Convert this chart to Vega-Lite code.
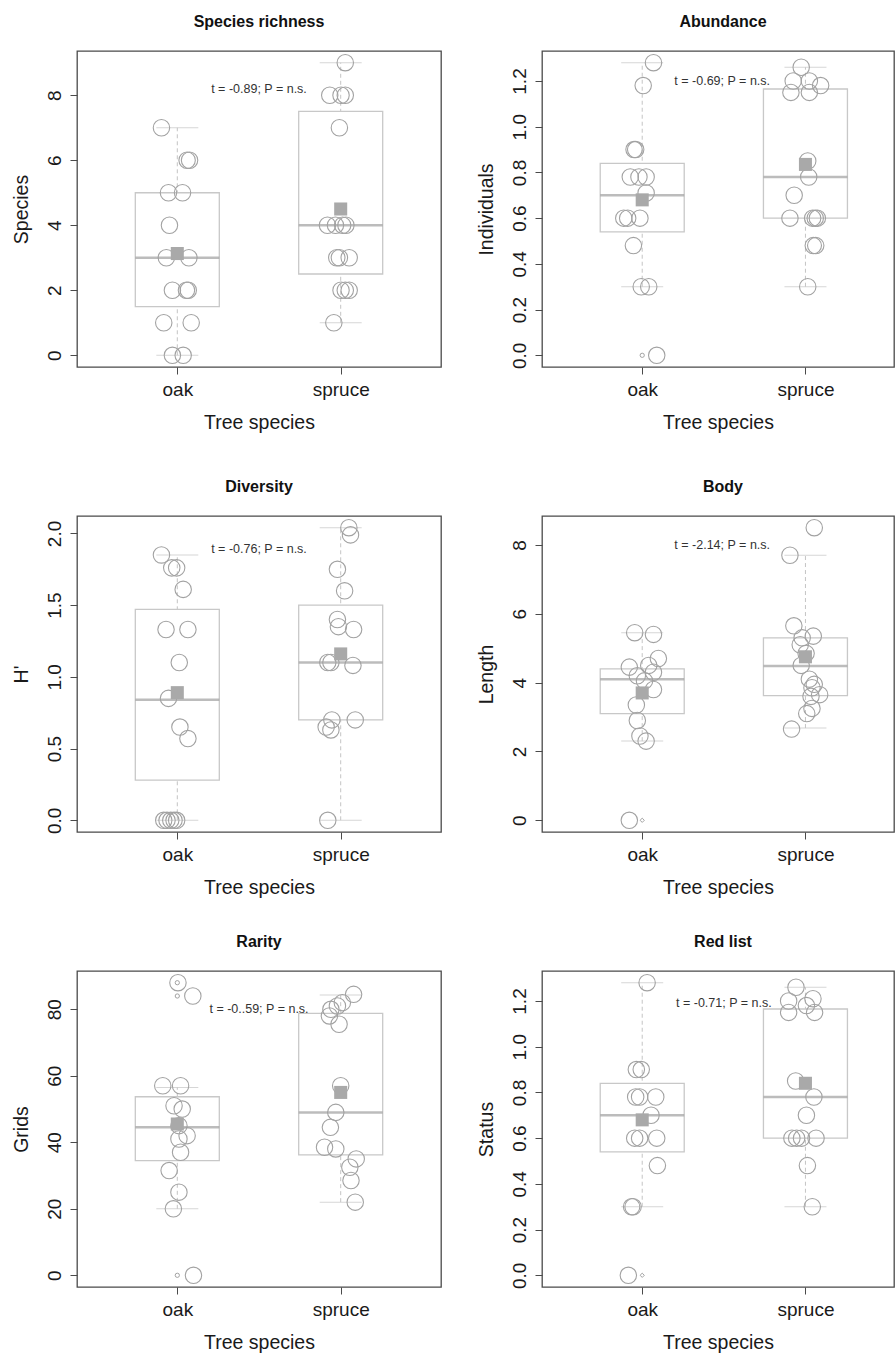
{
  "$schema": "https://vega.github.io/schema/vega-lite/v6.json",
  "padding": {"left": 10, "top": 13, "right": 0, "bottom": 0},
  "background": "white",
  "datasets": {
    "pts": [
      {"panel":"SR","tree":"oak","x":0.903,"value":7},{"panel":"SR","tree":"oak","x":1.060,"value":6},{"panel":"SR","tree":"oak","x":1.075,"value":6},{"panel":"SR","tree":"oak","x":0.946,"value":5},{"panel":"SR","tree":"oak","x":1.032,"value":5},{"panel":"SR","tree":"oak","x":0.952,"value":4},{"panel":"SR","tree":"oak","x":0.933,"value":3},{"panel":"SR","tree":"oak","x":1.071,"value":3},{"panel":"SR","tree":"oak","x":0.970,"value":2},{"panel":"SR","tree":"oak","x":1.056,"value":2},{"panel":"SR","tree":"oak","x":1.067,"value":2},{"panel":"SR","tree":"oak","x":0.917,"value":1},{"panel":"SR","tree":"oak","x":1.085,"value":1},{"panel":"SR","tree":"oak","x":0.970,"value":0},{"panel":"SR","tree":"oak","x":1.036,"value":0},
      {"panel":"SR","tree":"spruce","x":2.028,"value":9},{"panel":"SR","tree":"spruce","x":1.933,"value":8},{"panel":"SR","tree":"spruce","x":2.002,"value":8},{"panel":"SR","tree":"spruce","x":2.028,"value":8},{"panel":"SR","tree":"spruce","x":1.992,"value":7},{"panel":"SR","tree":"spruce","x":1.919,"value":4},{"panel":"SR","tree":"spruce","x":1.968,"value":4},{"panel":"SR","tree":"spruce","x":2.012,"value":4},{"panel":"SR","tree":"spruce","x":2.032,"value":4},{"panel":"SR","tree":"spruce","x":1.976,"value":3},{"panel":"SR","tree":"spruce","x":1.992,"value":3},{"panel":"SR","tree":"spruce","x":2.052,"value":3},{"panel":"SR","tree":"spruce","x":2.002,"value":2},{"panel":"SR","tree":"spruce","x":2.028,"value":2},{"panel":"SR","tree":"spruce","x":2.052,"value":2},{"panel":"SR","tree":"spruce","x":1.958,"value":1},
      {"panel":"AB","tree":"oak","x":1.069,"value":1.28},{"panel":"AB","tree":"oak","x":1.006,"value":1.18},{"panel":"AB","tree":"oak","x":0.950,"value":0.90},{"panel":"AB","tree":"oak","x":0.960,"value":0.90},{"panel":"AB","tree":"oak","x":0.927,"value":0.78},{"panel":"AB","tree":"oak","x":0.980,"value":0.78},{"panel":"AB","tree":"oak","x":1.024,"value":0.78},{"panel":"AB","tree":"oak","x":1.024,"value":0.71},{"panel":"AB","tree":"oak","x":0.887,"value":0.60},{"panel":"AB","tree":"oak","x":0.911,"value":0.60},{"panel":"AB","tree":"oak","x":0.986,"value":0.60},{"panel":"AB","tree":"oak","x":0.946,"value":0.48},{"panel":"AB","tree":"oak","x":0.994,"value":0.30},{"panel":"AB","tree":"oak","x":1.040,"value":0.30},{"panel":"AB","tree":"oak","x":1.089,"value":0},
      {"panel":"AB","tree":"spruce","x":1.974,"value":1.26},{"panel":"AB","tree":"spruce","x":1.925,"value":1.20},{"panel":"AB","tree":"spruce","x":2.024,"value":1.20},{"panel":"AB","tree":"spruce","x":2.093,"value":1.18},{"panel":"AB","tree":"spruce","x":1.911,"value":1.15},{"panel":"AB","tree":"spruce","x":2.024,"value":1.15},{"panel":"AB","tree":"spruce","x":2.014,"value":0.85},{"panel":"AB","tree":"spruce","x":2.020,"value":0.78},{"panel":"AB","tree":"spruce","x":1.931,"value":0.70},{"panel":"AB","tree":"spruce","x":1.905,"value":0.60},{"panel":"AB","tree":"spruce","x":2.044,"value":0.60},{"panel":"AB","tree":"spruce","x":2.060,"value":0.60},{"panel":"AB","tree":"spruce","x":2.073,"value":0.60},{"panel":"AB","tree":"spruce","x":2.048,"value":0.48},{"panel":"AB","tree":"spruce","x":2.063,"value":0.48},{"panel":"AB","tree":"spruce","x":2.014,"value":0.30},
      {"panel":"DV","tree":"oak","x":0.903,"value":1.85},{"panel":"DV","tree":"oak","x":0.966,"value":1.76},{"panel":"DV","tree":"oak","x":0.996,"value":1.76},{"panel":"DV","tree":"oak","x":1.036,"value":1.61},{"panel":"DV","tree":"oak","x":0.931,"value":1.33},{"panel":"DV","tree":"oak","x":1.065,"value":1.33},{"panel":"DV","tree":"oak","x":1.012,"value":1.10},{"panel":"DV","tree":"oak","x":0.946,"value":0.85},{"panel":"DV","tree":"oak","x":1.016,"value":0.65},{"panel":"DV","tree":"oak","x":1.065,"value":0.57},{"panel":"DV","tree":"oak","x":0.917,"value":0},{"panel":"DV","tree":"oak","x":0.937,"value":0},{"panel":"DV","tree":"oak","x":0.960,"value":0},{"panel":"DV","tree":"oak","x":0.980,"value":0},{"panel":"DV","tree":"oak","x":0.996,"value":0},
      {"panel":"DV","tree":"spruce","x":2.050,"value":2.04},{"panel":"DV","tree":"spruce","x":2.060,"value":1.99},{"panel":"DV","tree":"spruce","x":1.980,"value":1.75},{"panel":"DV","tree":"spruce","x":2.024,"value":1.60},{"panel":"DV","tree":"spruce","x":1.980,"value":1.40},{"panel":"DV","tree":"spruce","x":1.986,"value":1.35},{"panel":"DV","tree":"spruce","x":2.079,"value":1.33},{"panel":"DV","tree":"spruce","x":1.921,"value":1.10},{"panel":"DV","tree":"spruce","x":1.940,"value":1.10},{"panel":"DV","tree":"spruce","x":2.075,"value":1.08},{"panel":"DV","tree":"spruce","x":1.946,"value":0.70},{"panel":"DV","tree":"spruce","x":2.089,"value":0.70},{"panel":"DV","tree":"spruce","x":1.911,"value":0.65},{"panel":"DV","tree":"spruce","x":1.940,"value":0.63},{"panel":"DV","tree":"spruce","x":1.921,"value":0},
      {"panel":"BD","tree":"oak","x":0.954,"value":5.45},{"panel":"BD","tree":"oak","x":1.069,"value":5.40},{"panel":"BD","tree":"oak","x":1.099,"value":4.70},{"panel":"BD","tree":"oak","x":0.921,"value":4.45},{"panel":"BD","tree":"oak","x":1.040,"value":4.50},{"panel":"BD","tree":"oak","x":0.970,"value":4.20},{"panel":"BD","tree":"oak","x":1.069,"value":4.30},{"panel":"BD","tree":"oak","x":1.014,"value":4.05},{"panel":"BD","tree":"oak","x":1.069,"value":3.80},{"panel":"BD","tree":"oak","x":0.964,"value":3.35},{"panel":"BD","tree":"oak","x":0.970,"value":2.90},{"panel":"BD","tree":"oak","x":0.986,"value":2.45},{"panel":"BD","tree":"oak","x":1.024,"value":2.30},{"panel":"BD","tree":"oak","x":0.921,"value":0},
      {"panel":"BD","tree":"spruce","x":2.054,"value":8.5},{"panel":"BD","tree":"spruce","x":1.905,"value":7.7},{"panel":"BD","tree":"spruce","x":1.929,"value":5.65},{"panel":"BD","tree":"spruce","x":2.048,"value":5.35},{"panel":"BD","tree":"spruce","x":1.980,"value":5.3},{"panel":"BD","tree":"spruce","x":1.968,"value":5.1},{"panel":"BD","tree":"spruce","x":2.004,"value":4.85},{"panel":"BD","tree":"spruce","x":1.974,"value":4.5},{"panel":"BD","tree":"spruce","x":2.024,"value":4.1},{"panel":"BD","tree":"spruce","x":2.054,"value":3.95},{"panel":"BD","tree":"spruce","x":2.040,"value":3.85},{"panel":"BD","tree":"spruce","x":2.087,"value":3.65},{"panel":"BD","tree":"spruce","x":2.034,"value":3.6},{"panel":"BD","tree":"spruce","x":2.040,"value":3.25},{"panel":"BD","tree":"spruce","x":2.008,"value":3.1},{"panel":"BD","tree":"spruce","x":1.915,"value":2.65},
      {"panel":"RA","tree":"oak","x":1.004,"value":88},{"panel":"RA","tree":"oak","x":1.095,"value":84},{"panel":"RA","tree":"oak","x":0.911,"value":57},{"panel":"RA","tree":"oak","x":1.020,"value":57},{"panel":"RA","tree":"oak","x":0.980,"value":51},{"panel":"RA","tree":"oak","x":1.030,"value":50},{"panel":"RA","tree":"oak","x":1.010,"value":45},{"panel":"RA","tree":"oak","x":1.010,"value":41},{"panel":"RA","tree":"oak","x":1.060,"value":42},{"panel":"RA","tree":"oak","x":1.020,"value":37},{"panel":"RA","tree":"oak","x":0.950,"value":31.5},{"panel":"RA","tree":"oak","x":1.010,"value":25},{"panel":"RA","tree":"oak","x":0.976,"value":20},{"panel":"RA","tree":"oak","x":1.099,"value":0},
      {"panel":"RA","tree":"spruce","x":2.079,"value":84.5},{"panel":"RA","tree":"spruce","x":2.010,"value":82},{"panel":"RA","tree":"spruce","x":1.980,"value":81},{"panel":"RA","tree":"spruce","x":1.940,"value":80},{"panel":"RA","tree":"spruce","x":1.931,"value":78},{"panel":"RA","tree":"spruce","x":1.990,"value":75.5},{"panel":"RA","tree":"spruce","x":2.000,"value":57},{"panel":"RA","tree":"spruce","x":1.970,"value":49},{"panel":"RA","tree":"spruce","x":1.937,"value":44.5},{"panel":"RA","tree":"spruce","x":1.901,"value":38.5},{"panel":"RA","tree":"spruce","x":1.970,"value":38},{"panel":"RA","tree":"spruce","x":2.095,"value":35},{"panel":"RA","tree":"spruce","x":2.056,"value":32.5},{"panel":"RA","tree":"spruce","x":2.063,"value":28.5},{"panel":"RA","tree":"spruce","x":2.089,"value":22},
      {"panel":"RL","tree":"oak","x":1.030,"value":1.28},{"panel":"RL","tree":"oak","x":0.964,"value":0.90},{"panel":"RL","tree":"oak","x":0.994,"value":0.90},{"panel":"RL","tree":"oak","x":0.960,"value":0.78},{"panel":"RL","tree":"oak","x":0.984,"value":0.78},{"panel":"RL","tree":"oak","x":1.083,"value":0.78},{"panel":"RL","tree":"oak","x":1.054,"value":0.70},{"panel":"RL","tree":"oak","x":0.954,"value":0.60},{"panel":"RL","tree":"oak","x":0.984,"value":0.60},{"panel":"RL","tree":"oak","x":1.089,"value":0.60},{"panel":"RL","tree":"oak","x":1.093,"value":0.48},{"panel":"RL","tree":"oak","x":0.935,"value":0.30},{"panel":"RL","tree":"oak","x":0.944,"value":0.30},{"panel":"RL","tree":"oak","x":0.915,"value":0},
      {"panel":"RL","tree":"spruce","x":1.942,"value":1.26},{"panel":"RL","tree":"spruce","x":1.897,"value":1.20},{"panel":"RL","tree":"spruce","x":2.046,"value":1.21},{"panel":"RL","tree":"spruce","x":2.006,"value":1.18},{"panel":"RL","tree":"spruce","x":1.897,"value":1.15},{"panel":"RL","tree":"spruce","x":2.056,"value":1.15},{"panel":"RL","tree":"spruce","x":1.940,"value":0.85},{"panel":"RL","tree":"spruce","x":2.052,"value":0.78},{"panel":"RL","tree":"spruce","x":2.006,"value":0.70},{"panel":"RL","tree":"spruce","x":1.917,"value":0.60},{"panel":"RL","tree":"spruce","x":1.946,"value":0.60},{"panel":"RL","tree":"spruce","x":1.976,"value":0.60},{"panel":"RL","tree":"spruce","x":2.065,"value":0.60},{"panel":"RL","tree":"spruce","x":2.012,"value":0.48},{"panel":"RL","tree":"spruce","x":2.042,"value":0.30}
    ],
    "box": [
      {"panel":"SR","tree":"oak","x":1,"q1":1.5,"med":3,"q3":5,"lo":0,"hi":7,"mean":3.13},
      {"panel":"SR","tree":"spruce","x":2,"q1":2.5,"med":4,"q3":7.5,"lo":1,"hi":9,"mean":4.5},
      {"panel":"AB","tree":"oak","x":1,"q1":0.54,"med":0.70,"q3":0.84,"lo":0.30,"hi":1.28,"mean":0.68},
      {"panel":"AB","tree":"spruce","x":2,"q1":0.60,"med":0.78,"q3":1.165,"lo":0.30,"hi":1.26,"mean":0.835},
      {"panel":"DV","tree":"oak","x":1,"q1":0.28,"med":0.84,"q3":1.47,"lo":0,"hi":1.85,"mean":0.89},
      {"panel":"DV","tree":"spruce","x":2,"q1":0.70,"med":1.10,"q3":1.50,"lo":0,"hi":2.04,"mean":1.16},
      {"panel":"BD","tree":"oak","x":1,"q1":3.1,"med":4.1,"q3":4.4,"lo":2.3,"hi":5.45,"mean":3.7},
      {"panel":"BD","tree":"spruce","x":2,"q1":3.62,"med":4.48,"q3":5.3,"lo":2.68,"hi":7.7,"mean":4.75},
      {"panel":"RA","tree":"oak","x":1,"q1":34.5,"med":44.5,"q3":53.7,"lo":20,"hi":56.5,"mean":45.5},
      {"panel":"RA","tree":"spruce","x":2,"q1":36.2,"med":49,"q3":78.8,"lo":22,"hi":84.3,"mean":55},
      {"panel":"RL","tree":"oak","x":1,"q1":0.54,"med":0.70,"q3":0.84,"lo":0.30,"hi":1.28,"mean":0.68},
      {"panel":"RL","tree":"spruce","x":2,"q1":0.60,"med":0.78,"q3":1.165,"lo":0.30,"hi":1.26,"mean":0.84}
    ],
    "out": [
      {"panel":"AB","tree":"oak","x":1,"value":0},
      {"panel":"BD","tree":"oak","x":1,"value":0},
      {"panel":"RA","tree":"oak","x":1,"value":88},
      {"panel":"RA","tree":"oak","x":1,"value":84},
      {"panel":"RA","tree":"oak","x":1,"value":0},
      {"panel":"RL","tree":"oak","x":1,"value":0}
    ],
    "ann": [
      {"panel":"SR","x":1.5,"y":8.18,"label":"t = -0.89; P = n.s."},
      {"panel":"AB","x":1.49,"y":1.20,"label":"t = -0.69; P = n.s."},
      {"panel":"DV","x":1.5,"y":1.895,"label":"t = -0.76; P = n.s."},
      {"panel":"BD","x":1.49,"y":8.0,"label":"t = -2.14; P = n.s."},
      {"panel":"RA","x":1.5,"y":80.0,"label":"t = -0..59; P = n.s."},
      {"panel":"RL","x":1.5,"y":1.193,"label":"t = -0.71; P = n.s."}
    ]
  },
  "spacing": 45,
  "resolve": {"scale": {"x": "independent", "y": "independent"}},
  "vconcat": [
    {
      "hconcat": [
        {
          "title": {"text": "Species richness"},
          "width": 364, "height": 316,
          "encoding": {"x": {"field": "x", "type": "quantitative", "scale": {"domain": [0.4167, 2.5833], "nice": false, "zero": false}, "axis": {"values": [1, 2], "labelExpr": "datum.value == 1 ? 'oak' : 'spruce'"}, "title": "Tree species"}},
          "layer": [
            {"data": {"name": "box"}, "transform": [{"filter": "datum.panel == 'SR'"}], "mark": {"type": "rule", "strokeDash": [4, 3], "color": "#c4c4c4"}, "encoding": {"y": {"field": "lo", "type": "quantitative", "scale": {"domain": [-0.36, 9.36], "nice": false, "zero": false}, "axis": {"values": [0, 2, 4, 6, 8], "format": "d"}, "title": "Species"}, "y2": {"field": "hi"}}},
            {"data": {"name": "box"}, "transform": [{"filter": "datum.panel == 'SR'"}], "mark": {"type": "bar", "size": 84, "fill": "white", "stroke": "#c8c8c8", "strokeWidth": 1.3}, "encoding": {"y": {"field": "q1", "type": "quantitative", "title": "Species"}, "y2": {"field": "q3"}}},
            {"data": {"name": "box"}, "transform": [{"filter": "datum.panel == 'SR'"}, {"fold": ["lo", "hi"], "as": ["k", "v"]}], "mark": {"type": "tick", "orient": "horizontal", "size": 42, "thickness": 1, "color": "#c4c4c4"}, "encoding": {"y": {"field": "v", "type": "quantitative", "title": "Species"}}},
            {"data": {"name": "box"}, "transform": [{"filter": "datum.panel == 'SR'"}], "mark": {"type": "tick", "orient": "horizontal", "size": 84, "thickness": 2.5, "color": "#a0a0a0"}, "encoding": {"y": {"field": "med", "type": "quantitative", "title": "Species"}}},
            {"data": {"name": "pts"}, "transform": [{"filter": "datum.panel == 'SR'"}], "mark": {"type": "point", "shape": "circle", "filled": false, "size": 270, "color": "#a2a2a2", "strokeWidth": 1.1, "opacity": 1}, "encoding": {"y": {"field": "value", "type": "quantitative", "title": "Species"}}},
            {"data": {"name": "box"}, "transform": [{"filter": "datum.panel == 'SR'"}], "mark": {"type": "square", "size": 170, "color": "#a9a9a9", "opacity": 1}, "encoding": {"y": {"field": "mean", "type": "quantitative", "title": "Species"}}},
            {"data": {"name": "ann"}, "transform": [{"filter": "datum.panel == 'SR'"}], "mark": {"type": "text", "fontSize": 12.5, "color": "#333333"}, "encoding": {"y": {"field": "y", "type": "quantitative", "title": "Species"}, "text": {"field": "label"}}}
          ]
        },
        {
          "title": {"text": "Abundance", "dx": 5},
          "width": 352, "height": 316,
          "encoding": {"x": {"field": "x", "type": "quantitative", "scale": {"domain": [0.4167, 2.5119], "nice": false, "zero": false}, "axis": {"values": [1, 2], "labelExpr": "datum.value == 1 ? 'oak' : 'spruce'"}, "title": "Tree species"}},
          "layer": [
            {"data": {"name": "box"}, "transform": [{"filter": "datum.panel == 'AB'"}], "mark": {"type": "rule", "strokeDash": [4, 3], "color": "#c4c4c4"}, "encoding": {"y": {"field": "lo", "type": "quantitative", "scale": {"domain": [-0.0512, 1.3312], "nice": false, "zero": false}, "axis": {"values": [0, 0.2, 0.4, 0.6, 0.8, 1.0, 1.2], "format": ".1f"}, "title": "Individuals"}, "y2": {"field": "hi"}}},
            {"data": {"name": "box"}, "transform": [{"filter": "datum.panel == 'AB'"}], "mark": {"type": "bar", "size": 84, "fill": "white", "stroke": "#c8c8c8", "strokeWidth": 1.3}, "encoding": {"y": {"field": "q1", "type": "quantitative", "title": "Individuals"}, "y2": {"field": "q3"}}},
            {"data": {"name": "box"}, "transform": [{"filter": "datum.panel == 'AB'"}, {"fold": ["lo", "hi"], "as": ["k", "v"]}], "mark": {"type": "tick", "orient": "horizontal", "size": 42, "thickness": 1, "color": "#c4c4c4"}, "encoding": {"y": {"field": "v", "type": "quantitative", "title": "Individuals"}}},
            {"data": {"name": "box"}, "transform": [{"filter": "datum.panel == 'AB'"}], "mark": {"type": "tick", "orient": "horizontal", "size": 84, "thickness": 2.5, "color": "#a0a0a0"}, "encoding": {"y": {"field": "med", "type": "quantitative", "title": "Individuals"}}},
            {"data": {"name": "pts"}, "transform": [{"filter": "datum.panel == 'AB'"}], "mark": {"type": "point", "shape": "circle", "filled": false, "size": 270, "color": "#a2a2a2", "strokeWidth": 1.1, "opacity": 1}, "encoding": {"y": {"field": "value", "type": "quantitative", "title": "Individuals"}}},
            {"data": {"name": "out"}, "transform": [{"filter": "datum.panel == 'AB'"}], "mark": {"type": "point", "shape": "circle", "filled": false, "size": 18, "color": "#a2a2a2", "strokeWidth": 1, "opacity": 1}, "encoding": {"y": {"field": "value", "type": "quantitative", "title": "Individuals"}}},
            {"data": {"name": "box"}, "transform": [{"filter": "datum.panel == 'AB'"}], "mark": {"type": "square", "size": 170, "color": "#a9a9a9", "opacity": 1}, "encoding": {"y": {"field": "mean", "type": "quantitative", "title": "Individuals"}}},
            {"data": {"name": "ann"}, "transform": [{"filter": "datum.panel == 'AB'"}], "mark": {"type": "text", "fontSize": 12.5, "color": "#333333"}, "encoding": {"y": {"field": "y", "type": "quantitative", "title": "Individuals"}, "text": {"field": "label"}}}
          ]
        }
      ],
      "spacing": 33
    },
    {
      "spacing": 35,
      "vconcat": [
        {
          "spacing": 33,
          "hconcat": [
            {
              "title": {"text": "Diversity"},
              "width": 364, "height": 316,
              "encoding": {"x": {"field": "x", "type": "quantitative", "scale": {"domain": [0.4167, 2.5833], "nice": false, "zero": false}, "axis": {"values": [1, 2], "labelExpr": "datum.value == 1 ? 'oak' : 'spruce'"}, "title": "Tree species"}},
              "layer": [
                {"data": {"name": "box"}, "transform": [{"filter": "datum.panel == 'DV'"}], "mark": {"type": "rule", "strokeDash": [4, 3], "color": "#c4c4c4"}, "encoding": {"y": {"field": "lo", "type": "quantitative", "scale": {"domain": [-0.0816, 2.1216], "nice": false, "zero": false}, "axis": {"values": [0, 0.5, 1.0, 1.5, 2.0], "format": ".1f"}, "title": "H'"}, "y2": {"field": "hi"}}},
                {"data": {"name": "box"}, "transform": [{"filter": "datum.panel == 'DV'"}], "mark": {"type": "bar", "size": 84, "fill": "white", "stroke": "#c8c8c8", "strokeWidth": 1.3}, "encoding": {"y": {"field": "q1", "type": "quantitative", "title": "H'"}, "y2": {"field": "q3"}}},
                {"data": {"name": "box"}, "transform": [{"filter": "datum.panel == 'DV'"}, {"fold": ["lo", "hi"], "as": ["k", "v"]}], "mark": {"type": "tick", "orient": "horizontal", "size": 42, "thickness": 1, "color": "#c4c4c4"}, "encoding": {"y": {"field": "v", "type": "quantitative", "title": "H'"}}},
                {"data": {"name": "box"}, "transform": [{"filter": "datum.panel == 'DV'"}], "mark": {"type": "tick", "orient": "horizontal", "size": 84, "thickness": 2.5, "color": "#a0a0a0"}, "encoding": {"y": {"field": "med", "type": "quantitative", "title": "H'"}}},
                {"data": {"name": "pts"}, "transform": [{"filter": "datum.panel == 'DV'"}], "mark": {"type": "point", "shape": "circle", "filled": false, "size": 270, "color": "#a2a2a2", "strokeWidth": 1.1, "opacity": 1}, "encoding": {"y": {"field": "value", "type": "quantitative", "title": "H'"}}},
                {"data": {"name": "box"}, "transform": [{"filter": "datum.panel == 'DV'"}], "mark": {"type": "square", "size": 170, "color": "#a9a9a9", "opacity": 1}, "encoding": {"y": {"field": "mean", "type": "quantitative", "title": "H'"}}},
                {"data": {"name": "ann"}, "transform": [{"filter": "datum.panel == 'DV'"}], "mark": {"type": "text", "fontSize": 12.5, "color": "#333333"}, "encoding": {"y": {"field": "y", "type": "quantitative", "title": "H'"}, "text": {"field": "label"}}}
              ]
            },
            {
              "title": {"text": "Body", "dx": 5},
              "width": 352, "height": 316,
              "encoding": {"x": {"field": "x", "type": "quantitative", "scale": {"domain": [0.4167, 2.5119], "nice": false, "zero": false}, "axis": {"values": [1, 2], "labelExpr": "datum.value == 1 ? 'oak' : 'spruce'"}, "title": "Tree species"}},
              "layer": [
                {"data": {"name": "box"}, "transform": [{"filter": "datum.panel == 'BD'"}], "mark": {"type": "rule", "strokeDash": [4, 3], "color": "#c4c4c4"}, "encoding": {"y": {"field": "lo", "type": "quantitative", "scale": {"domain": [-0.34, 8.84], "nice": false, "zero": false}, "axis": {"values": [0, 2, 4, 6, 8], "format": "d"}, "title": "Length"}, "y2": {"field": "hi"}}},
                {"data": {"name": "box"}, "transform": [{"filter": "datum.panel == 'BD'"}], "mark": {"type": "bar", "size": 84, "fill": "white", "stroke": "#c8c8c8", "strokeWidth": 1.3}, "encoding": {"y": {"field": "q1", "type": "quantitative", "title": "Length"}, "y2": {"field": "q3"}}},
                {"data": {"name": "box"}, "transform": [{"filter": "datum.panel == 'BD'"}, {"fold": ["lo", "hi"], "as": ["k", "v"]}], "mark": {"type": "tick", "orient": "horizontal", "size": 42, "thickness": 1, "color": "#c4c4c4"}, "encoding": {"y": {"field": "v", "type": "quantitative", "title": "Length"}}},
                {"data": {"name": "box"}, "transform": [{"filter": "datum.panel == 'BD'"}], "mark": {"type": "tick", "orient": "horizontal", "size": 84, "thickness": 2.5, "color": "#a0a0a0"}, "encoding": {"y": {"field": "med", "type": "quantitative", "title": "Length"}}},
                {"data": {"name": "pts"}, "transform": [{"filter": "datum.panel == 'BD'"}], "mark": {"type": "point", "shape": "circle", "filled": false, "size": 270, "color": "#a2a2a2", "strokeWidth": 1.1, "opacity": 1}, "encoding": {"y": {"field": "value", "type": "quantitative", "title": "Length"}}},
                {"data": {"name": "out"}, "transform": [{"filter": "datum.panel == 'BD'"}], "mark": {"type": "point", "shape": "diamond", "filled": false, "size": 18, "color": "#a2a2a2", "strokeWidth": 1, "opacity": 1}, "encoding": {"y": {"field": "value", "type": "quantitative", "title": "Length"}}},
                {"data": {"name": "box"}, "transform": [{"filter": "datum.panel == 'BD'"}], "mark": {"type": "square", "size": 170, "color": "#a9a9a9", "opacity": 1}, "encoding": {"y": {"field": "mean", "type": "quantitative", "title": "Length"}}},
                {"data": {"name": "ann"}, "transform": [{"filter": "datum.panel == 'BD'"}], "mark": {"type": "text", "fontSize": 12.5, "color": "#333333"}, "encoding": {"y": {"field": "y", "type": "quantitative", "title": "Length"}, "text": {"field": "label"}}}
              ]
            }
          ]
        },
        {
          "spacing": 33,
          "hconcat": [
            {
              "title": {"text": "Rarity"},
              "width": 364, "height": 316,
              "encoding": {"x": {"field": "x", "type": "quantitative", "scale": {"domain": [0.4167, 2.5833], "nice": false, "zero": false}, "axis": {"values": [1, 2], "labelExpr": "datum.value == 1 ? 'oak' : 'spruce'"}, "title": "Tree species"}},
              "layer": [
                {"data": {"name": "box"}, "transform": [{"filter": "datum.panel == 'RA'"}], "mark": {"type": "rule", "strokeDash": [4, 3], "color": "#c4c4c4"}, "encoding": {"y": {"field": "lo", "type": "quantitative", "scale": {"domain": [-3.52, 91.52], "nice": false, "zero": false}, "axis": {"values": [0, 20, 40, 60, 80], "format": "d"}, "title": "Grids"}, "y2": {"field": "hi"}}},
                {"data": {"name": "box"}, "transform": [{"filter": "datum.panel == 'RA'"}], "mark": {"type": "bar", "size": 84, "fill": "white", "stroke": "#c8c8c8", "strokeWidth": 1.3}, "encoding": {"y": {"field": "q1", "type": "quantitative", "title": "Grids"}, "y2": {"field": "q3"}}},
                {"data": {"name": "box"}, "transform": [{"filter": "datum.panel == 'RA'"}, {"fold": ["lo", "hi"], "as": ["k", "v"]}], "mark": {"type": "tick", "orient": "horizontal", "size": 42, "thickness": 1, "color": "#c4c4c4"}, "encoding": {"y": {"field": "v", "type": "quantitative", "title": "Grids"}}},
                {"data": {"name": "box"}, "transform": [{"filter": "datum.panel == 'RA'"}], "mark": {"type": "tick", "orient": "horizontal", "size": 84, "thickness": 2.5, "color": "#a0a0a0"}, "encoding": {"y": {"field": "med", "type": "quantitative", "title": "Grids"}}},
                {"data": {"name": "pts"}, "transform": [{"filter": "datum.panel == 'RA'"}], "mark": {"type": "point", "shape": "circle", "filled": false, "size": 270, "color": "#a2a2a2", "strokeWidth": 1.1, "opacity": 1}, "encoding": {"y": {"field": "value", "type": "quantitative", "title": "Grids"}}},
                {"data": {"name": "out"}, "transform": [{"filter": "datum.panel == 'RA'"}], "mark": {"type": "point", "shape": "circle", "filled": false, "size": 18, "color": "#a2a2a2", "strokeWidth": 1, "opacity": 1}, "encoding": {"y": {"field": "value", "type": "quantitative", "title": "Grids"}}},
                {"data": {"name": "box"}, "transform": [{"filter": "datum.panel == 'RA'"}], "mark": {"type": "square", "size": 170, "color": "#a9a9a9", "opacity": 1}, "encoding": {"y": {"field": "mean", "type": "quantitative", "title": "Grids"}}},
                {"data": {"name": "ann"}, "transform": [{"filter": "datum.panel == 'RA'"}], "mark": {"type": "text", "fontSize": 12.5, "color": "#333333"}, "encoding": {"y": {"field": "y", "type": "quantitative", "title": "Grids"}, "text": {"field": "label"}}}
              ]
            },
            {
              "title": {"text": "Red list", "dx": 5},
              "width": 352, "height": 316,
              "encoding": {"x": {"field": "x", "type": "quantitative", "scale": {"domain": [0.4167, 2.5119], "nice": false, "zero": false}, "axis": {"values": [1, 2], "labelExpr": "datum.value == 1 ? 'oak' : 'spruce'"}, "title": "Tree species"}},
              "layer": [
                {"data": {"name": "box"}, "transform": [{"filter": "datum.panel == 'RL'"}], "mark": {"type": "rule", "strokeDash": [4, 3], "color": "#c4c4c4"}, "encoding": {"y": {"field": "lo", "type": "quantitative", "scale": {"domain": [-0.0512, 1.3312], "nice": false, "zero": false}, "axis": {"values": [0, 0.2, 0.4, 0.6, 0.8, 1.0, 1.2], "format": ".1f"}, "title": "Status"}, "y2": {"field": "hi"}}},
                {"data": {"name": "box"}, "transform": [{"filter": "datum.panel == 'RL'"}], "mark": {"type": "bar", "size": 84, "fill": "white", "stroke": "#c8c8c8", "strokeWidth": 1.3}, "encoding": {"y": {"field": "q1", "type": "quantitative", "title": "Status"}, "y2": {"field": "q3"}}},
                {"data": {"name": "box"}, "transform": [{"filter": "datum.panel == 'RL'"}, {"fold": ["lo", "hi"], "as": ["k", "v"]}], "mark": {"type": "tick", "orient": "horizontal", "size": 42, "thickness": 1, "color": "#c4c4c4"}, "encoding": {"y": {"field": "v", "type": "quantitative", "title": "Status"}}},
                {"data": {"name": "box"}, "transform": [{"filter": "datum.panel == 'RL'"}], "mark": {"type": "tick", "orient": "horizontal", "size": 84, "thickness": 2.5, "color": "#a0a0a0"}, "encoding": {"y": {"field": "med", "type": "quantitative", "title": "Status"}}},
                {"data": {"name": "pts"}, "transform": [{"filter": "datum.panel == 'RL'"}], "mark": {"type": "point", "shape": "circle", "filled": false, "size": 270, "color": "#a2a2a2", "strokeWidth": 1.1, "opacity": 1}, "encoding": {"y": {"field": "value", "type": "quantitative", "title": "Status"}}},
                {"data": {"name": "out"}, "transform": [{"filter": "datum.panel == 'RL'"}], "mark": {"type": "point", "shape": "diamond", "filled": false, "size": 18, "color": "#a2a2a2", "strokeWidth": 1, "opacity": 1}, "encoding": {"y": {"field": "value", "type": "quantitative", "title": "Status"}}},
                {"data": {"name": "box"}, "transform": [{"filter": "datum.panel == 'RL'"}], "mark": {"type": "square", "size": 170, "color": "#a9a9a9", "opacity": 1}, "encoding": {"y": {"field": "mean", "type": "quantitative", "title": "Status"}}},
                {"data": {"name": "ann"}, "transform": [{"filter": "datum.panel == 'RL'"}], "mark": {"type": "text", "fontSize": 12.5, "color": "#333333"}, "encoding": {"y": {"field": "y", "type": "quantitative", "title": "Status"}, "text": {"field": "label"}}}
              ]
            }
          ]
        }
      ]
    }
  ],
  "config": {
    "font": "Liberation Sans",
    "view": {"stroke": "#4a4a4a", "strokeWidth": 1.3},
    "axis": {"grid": false, "domain": false, "tickSize": 7, "tickColor": "#4a4a4a", "labelFontSize": 19, "labelColor": "#1a1a1a", "titleFontSize": 19.5, "titleFontWeight": "normal", "titleColor": "#1a1a1a"},
    "axisY": {"labelAngle": -90, "labelPadding": 6, "titlePadding": 14},
    "axisX": {"labelPadding": 6, "titlePadding": 14},
    "title": {"fontSize": 16, "fontWeight": "bold", "offset": 21, "color": "#111111", "anchor": "middle"}
  }
}
